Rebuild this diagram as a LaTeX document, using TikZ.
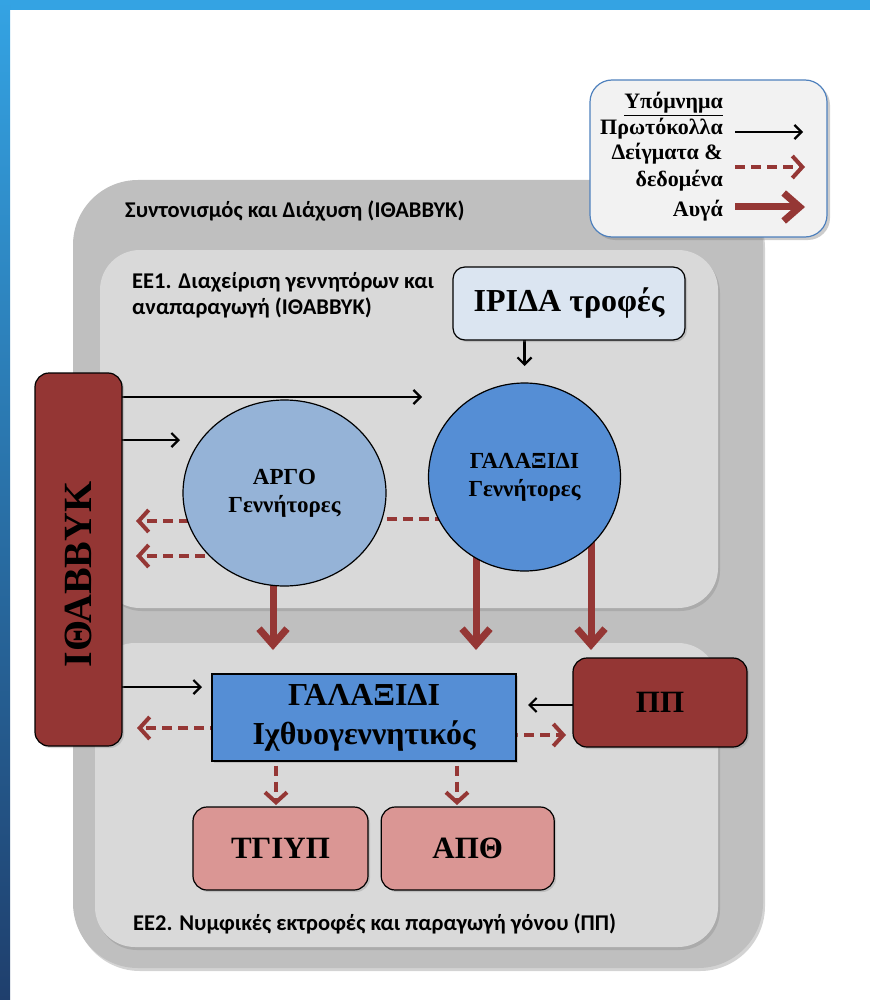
\documentclass[tikz,border=0pt]{standalone}
\usepackage{fontspec}
\setmainfont{Liberation Serif}
\newfontfamily\labelfont{Carlito}
\usetikzlibrary{positioning,shapes.geometric,arrows.meta,shadows,backgrounds}

\definecolor{ibred}{HTML}{943634}
\definecolor{arrowred}{HTML}{953735}
\definecolor{palered}{HTML}{DA9694}
\definecolor{argoblue}{HTML}{95B3D7}
\definecolor{galaxblue}{HTML}{558ED5}
\definecolor{iridablue}{HTML}{DBE5F1}
\definecolor{outergray}{HTML}{BFBFBF}
\definecolor{innergray}{HTML}{D9D9D9}
\definecolor{legendfill}{HTML}{F2F2F2}
\definecolor{legendline}{HTML}{4F81BD}
\definecolor{stripblue}{HTML}{34A3E3}
\definecolor{stripdark}{HTML}{1F3F6D}

\begin{document}
\begin{tikzpicture}[x=1pt,y=-1pt,
  box/.style={draw=black,line width=1.2pt,inner sep=0pt,align=center,font=\bfseries\fontsize{31}{37}\selectfont,drop shadow={opacity=0.3,shadow xshift=2pt,shadow yshift=-2pt}},
  gen/.style={ellipse,draw=black,line width=1.2pt,inner sep=0pt,align=center,font=\bfseries\fontsize{23}{28}\selectfont},
  proto/.style={-{Straight Barb[length=7pt,width=14pt]},line width=2.2pt},
  data/.style={-{Straight Barb[length=10pt,width=22pt]},draw=arrowred,line width=4pt,dash pattern=on 10pt off 6pt},
  egg/.style={-{Straight Barb[length=16pt,width=28pt]},draw=arrowred,line width=7pt},
  caption/.style={anchor=base west,inner sep=0pt,font=\labelfont\bfseries\fontsize{22.5}{26}\selectfont},
  legtext/.style={anchor=base east,inner sep=0pt,font=\bfseries\fontsize{22}{27}\selectfont}]
\useasboundingbox (0,0) rectangle (870,1000);
% slide frame
\fill[stripblue] (0,0) rectangle (870,10);
\shade[top color=stripblue,bottom color=stripdark] (0,0) rectangle (10,1000);

% work package areas
\begin{scope}[on background layer]
\fill[outergray,rounded corners=65pt,drop shadow={opacity=0.35,shadow xshift=2pt,shadow yshift=-3pt}] (73,180) rectangle (763,968);
\fill[innergray,rounded corners=40pt,drop shadow={opacity=0.3,shadow xshift=2pt,shadow yshift=-3pt}] (100,250) rectangle (718,608);
\fill[innergray,rounded corners=40pt,drop shadow={opacity=0.3,shadow xshift=2pt,shadow yshift=-3pt}] (95,643) rectangle (718,947);
\end{scope}

\node[caption] (coord) at (125,218) {Συντονισμός και Διάχυση (ΙΘΑΒΒΥΚ)};
\node[caption] (ee1) at (132,288) {ΕΕ1. Διαχείριση γεννητόρων και};
\node[caption] (ee1b) at (132,314) {αναπαραγωγή (ΙΘΑΒΒΥΚ)};
\node[caption] (ee2) at (133,930) {ΕΕ2. Νυμφικές εκτροφές και παραγωγή γόνου (ΠΠ)};

% partners
\node[box,fill=ibred,rounded corners=14pt,minimum width=87pt,minimum height=373pt,font=\bfseries\fontsize{40}{40}\selectfont] (ibox) at (78.5,559.5) {\rotatebox{90}{ΙΘΑΒΒΥΚ\hspace{30pt}}};
\node[box,fill=iridablue,rounded corners=12pt,minimum width=232pt,minimum height=73pt,font=\bfseries\fontsize{32}{32}\selectfont] (irida) at (569,303.5) {ΙΡΙΔΑ τροφές};
\node[gen,fill=argoblue,minimum width=203pt,minimum height=186pt] (argo) at (284.5,493) {ΑΡΓΟ\\Γεννήτορες};
\node[gen,fill=galaxblue,minimum width=192pt,minimum height=188pt] (galax) at (524.5,477) {ΓΑΛΑΞΙΔΙ\\Γεννήτορες};
\node[box,fill=galaxblue,minimum width=304pt,minimum height=87pt,font=\bfseries\fontsize{32}{39}\selectfont] (hatch) at (364,717.5) {ΓΑΛΑΞΙΔΙ\\Ιχθυογεννητικός};
\node[box,fill=ibred,rounded corners=14pt,minimum width=174pt,minimum height=89pt] (pp) at (660,702.5) {ΠΠ};
\node[box,fill=palered,rounded corners=14pt,minimum width=175pt,minimum height=83pt] (tgiyp) at (280.5,848.5) {ΤΓΙΥΠ};
\node[box,fill=palered,rounded corners=14pt,minimum width=173pt,minimum height=83pt,right=12pt of tgiyp] (apth) {ΑΠΘ};

% legend
\node[draw=legendline,line width=1.2pt,fill=legendfill,rounded corners=22pt,minimum width=237pt,minimum height=157pt,drop shadow={opacity=0.4,shadow xshift=3pt,shadow yshift=-3pt}] (legend) at (708.5,158.5) {};
\node[legtext] (legtitle) at (723,109) {\underline{Υπόμνημα}};
\node[legtext] (legproto) at (723,135) {Πρωτόκολλα};
\node[legtext] (legdata) at (723,160) {Δείγματα \&};
\node[legtext] (legdatab) at (723,187) {δεδομένα};
\node[legtext] (legegg) at (723,217) {Αυγά};
\draw[proto] (735,132) -- (803,132);
\draw[data] (735,167) -- (805,167);
\draw[egg] (735,207) -- (805,207);

% free ends
\coordinate (p1) at (422,397);
\coordinate (p2) at (180,440);
\coordinate (p3) at (202,687);
\coordinate (p4) at (524.5,366);
\coordinate (p5) at (528,705);
\coordinate (d0) at (405,519);
\coordinate (d1) at (136,521);
\coordinate (d2) at (136,556);
\coordinate (d3) at (137,728);
\coordinate (d4) at (566,735);
\coordinate (d5) at (276,805);
\coordinate (d6) at (457,805);
\coordinate (e1) at (273,650);
\coordinate (e2) at (476,650);
\coordinate (e3) at (591,650);

\begin{scope}[on background layer]
\draw[proto] (ibox.center |- p1) -- (p1);
\draw[proto] (ibox.center |- p2) -- (p2);
\draw[proto] (ibox.center |- p3) -- (p3);
\draw[proto] (irida.center -| p4) -- (p4);
\draw[proto] (pp.center |- p5) -- (p5);
\draw[data,-] (galax.center |- d0) -- (argo.center |- d0);
\draw[data] (argo.center |- d1) -- (d1);
\draw[data] (argo.center |- d2) -- (d2);
\draw[data] (hatch.center |- d3) -- (d3);
\draw[data] (hatch.center |- d4) -- (d4);
\draw[data] (hatch.center -| d5) -- (d5);
\draw[data] (hatch.center -| d6) -- (d6);
\draw[egg] (argo.center -| e1) -- (e1);
\draw[egg] (galax.center -| e2) -- (e2);
\draw[egg] (galax.center -| e3) -- (e3);
\end{scope}
\end{tikzpicture}
\end{document}
